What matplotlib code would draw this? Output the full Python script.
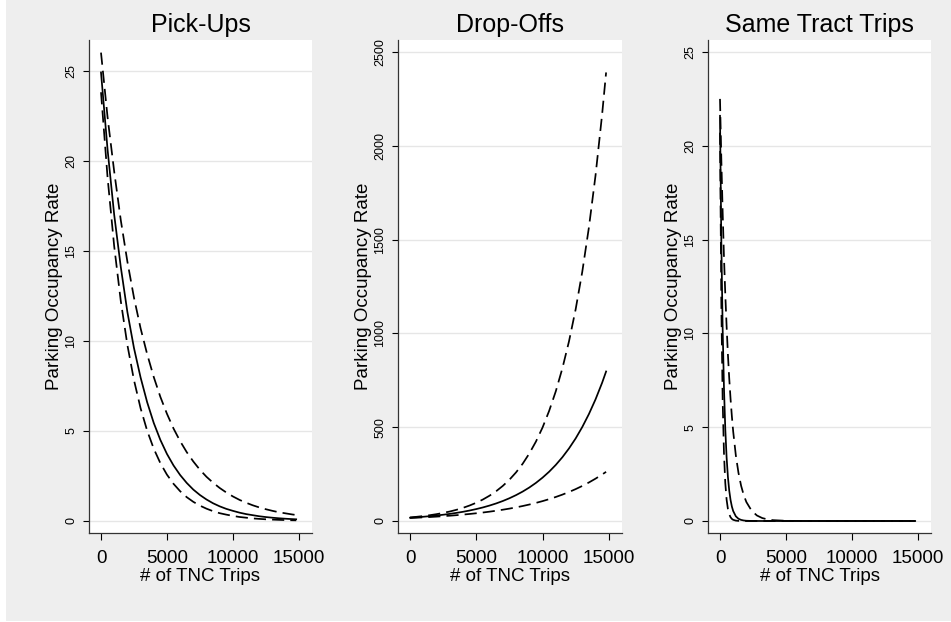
import numpy as np
import matplotlib
matplotlib.use("Agg")
from matplotlib import pyplot as plt
from matplotlib.patches import Rectangle

plt.rcParams['font.family'] = ['Liberation Sans', 'DejaVu Sans']

## values (x = # of TNC trips)
trips = [0, 500, 1000, 1500, 2000, 2500, 3000, 3500, 4000, 4500, 5000, 5500,
         6000, 6500, 7000, 7500, 8000, 8500, 9000, 9500, 10000, 10500, 11000,
         11500, 12000, 12500, 13000, 13500, 14000, 14500, 14800]

pickups_fit = [24.9, 20.6, 17.0, 14.1, 11.6, 9.6, 7.97, 6.59, 5.44, 4.50, 3.72, 3.08,
               2.55, 2.11, 1.74, 1.44, 1.19, 0.98, 0.81, 0.67, 0.56, 0.46, 0.38,
               0.32, 0.26, 0.215, 0.178, 0.147, 0.122, 0.101, 0.090]
pickups_hi = [26.0, 22.4, 19.4, 16.7, 14.4, 12.4, 10.7, 9.26, 7.99, 6.89, 5.95, 5.13,
              4.43, 3.82, 3.30, 2.84, 2.45, 2.12, 1.83, 1.58, 1.36, 1.17, 1.01,
              0.87, 0.75, 0.65, 0.56, 0.48, 0.42, 0.36, 0.33]
pickups_lo = [23.8, 19.05, 15.25, 12.21, 9.77, 7.82, 6.26, 5.01, 4.01, 3.21, 2.57, 2.06,
              1.65, 1.32, 1.06, 0.85, 0.68, 0.54, 0.43, 0.35, 0.28, 0.22, 0.18,
              0.14, 0.114, 0.091, 0.073, 0.059, 0.047, 0.037, 0.033]

dropoffs_fit = [17.5, 19.9, 22.6, 25.8, 29.3, 33.4, 37.9, 43.2, 49.1, 55.9, 63.6, 72.3,
                82.3, 93.6, 106.5, 121.2, 137.9, 156.8, 178.4, 203, 231, 262.7, 298.9,
                340, 386.9, 440, 500.8, 569.8, 648, 737, 797]
dropoffs_hi = [19, 22.4, 26.3, 31.0, 36.5, 43.0, 50.6, 59.6, 70.2, 82.7, 97.3, 114.6,
               134.9, 158.8, 187, 220, 259, 305, 359.5, 423, 498, 587, 691,
               814, 958, 1128, 1328, 1564, 1841, 2168, 2391]
dropoffs_lo = [16, 17.6, 19.3, 21.2, 23.3, 25.7, 28.2, 31.0, 34.1, 37.5, 41.2, 45.2,
               49.7, 54.7, 60.1, 66.0, 72.6, 79.8, 87.7, 96.4, 105.9, 116.4, 128,
               140.6, 154.6, 169.9, 186.8, 205.3, 225.6, 247.9, 262]

same_trips = [0, 100, 200, 300, 400, 500, 600, 700, 800, 900, 1000, 1200, 1400, 1600,
              1800, 2000, 2400, 2800, 3200, 3600, 4000, 5000, 6000, 7000, 8000, 9000,
              10000, 11000, 12000, 13000, 14000, 14800]
same_fit = [21.6, 14.9, 10.3, 7.12, 4.92, 3.40, 2.35, 1.62, 1.12, 0.77, 0.53, 0.25, 0.12,
            0.058, 0.028, 0.013, 0.003, 0.001, 0, 0, 0, 0, 0, 0, 0, 0, 0, 0, 0, 0, 0, 0]
same_hi = [22.5, 19.3, 16.5, 14.1, 12.1, 10.4, 8.88, 7.60, 6.51, 5.58, 4.77, 3.50, 2.57,
           1.88, 1.38, 1.01, 0.545, 0.293, 0.158, 0.085, 0.046, 0.010, 0.002, 0, 0, 0,
           0, 0, 0, 0, 0, 0]
same_lo = [20.7, 11.6, 6.49, 3.63, 2.03, 1.14, 0.64, 0.36, 0.20, 0.112, 0.063, 0.020,
           0.006, 0.002, 0, 0, 0, 0, 0, 0, 0, 0, 0, 0, 0, 0, 0, 0, 0, 0, 0, 0]

titles = ["Pick-Ups", "Drop-Offs", "Same Tract Trips"]
yticks = [[0, 5, 10, 15, 20, 25], [0, 500, 1000, 1500, 2000, 2500], [0, 5, 10, 15, 20, 25]]
xticks = [0, 5000, 10000, 15000]

W, H = 951, 622
fig = plt.figure(figsize=(W / 100, H / 100), dpi=100)
fig.patch.set_facecolor('white')
# stata grey backdrop (thin white strip at left edge)
fig.patches.append(Rectangle((6 / W, 1 / H), 1, 1, transform=fig.transFigure,
                             facecolor='#EEEEEE', edgecolor='none', zorder=-10))

## axes boxes in pixels: left, right, top, bottom
boxes = [(89, 312, 40, 533), (398, 622, 40, 533), (708, 931, 40, 533)]
ylims = [(-0.67, 26.7), (-64, 2564), (-0.64, 25.64)]

panels = [(trips, pickups_fit, pickups_lo, pickups_hi),
          (trips, dropoffs_fit, dropoffs_lo, dropoffs_hi),
          (same_trips, same_fit, same_lo, same_hi)]

for i, (xs, fit, lo, hi) in enumerate(panels):
    l, r, t, b = boxes[i]
    ax = fig.add_axes([l / W, (H - b) / H, (r - l) / W, (b - t) / H])
    ax.set_facecolor('white')
    ax.plot(xs, hi, color='black', lw=1.25, dashes=(7, 3.5))
    ax.plot(xs, lo, color='black', lw=1.25, dashes=(7, 3.5))
    ax.plot(xs, fit, color='black', lw=1.25)

    ax.set_xlim(-910, 16000)
    ax.set_ylim(*ylims[i])
    ax.set_xticks(xticks)
    ax.set_yticks(yticks[i])
    ax.set_yticklabels([str(v) for v in yticks[i]], rotation=90, va='center', fontsize=9)
    ax.tick_params(axis='x', labelsize=13.5, length=5, width=0.8, pad=7)
    ax.tick_params(axis='y', length=4.3, width=0.8, pad=4)
    ax.grid(axis='y', color='#E6E6E6', lw=1.0)
    ax.set_axisbelow(True)
    for s in ['top', 'right']:
        ax.spines[s].set_visible(False)
    for s in ['left', 'bottom']:
        ax.spines[s].set_color('#333333')
        ax.spines[s].set_linewidth(0.9)

    ax.set_title(titles[i], fontsize=18, pad=6)
    ax.set_xlabel("# of TNC Trips", fontsize=13.5, labelpad=1)
    ax.set_ylabel("Parking Occupancy Rate", fontsize=13.5, labelpad=2)

fig.savefig("out.png", dpi=100, facecolor=fig.get_facecolor())
